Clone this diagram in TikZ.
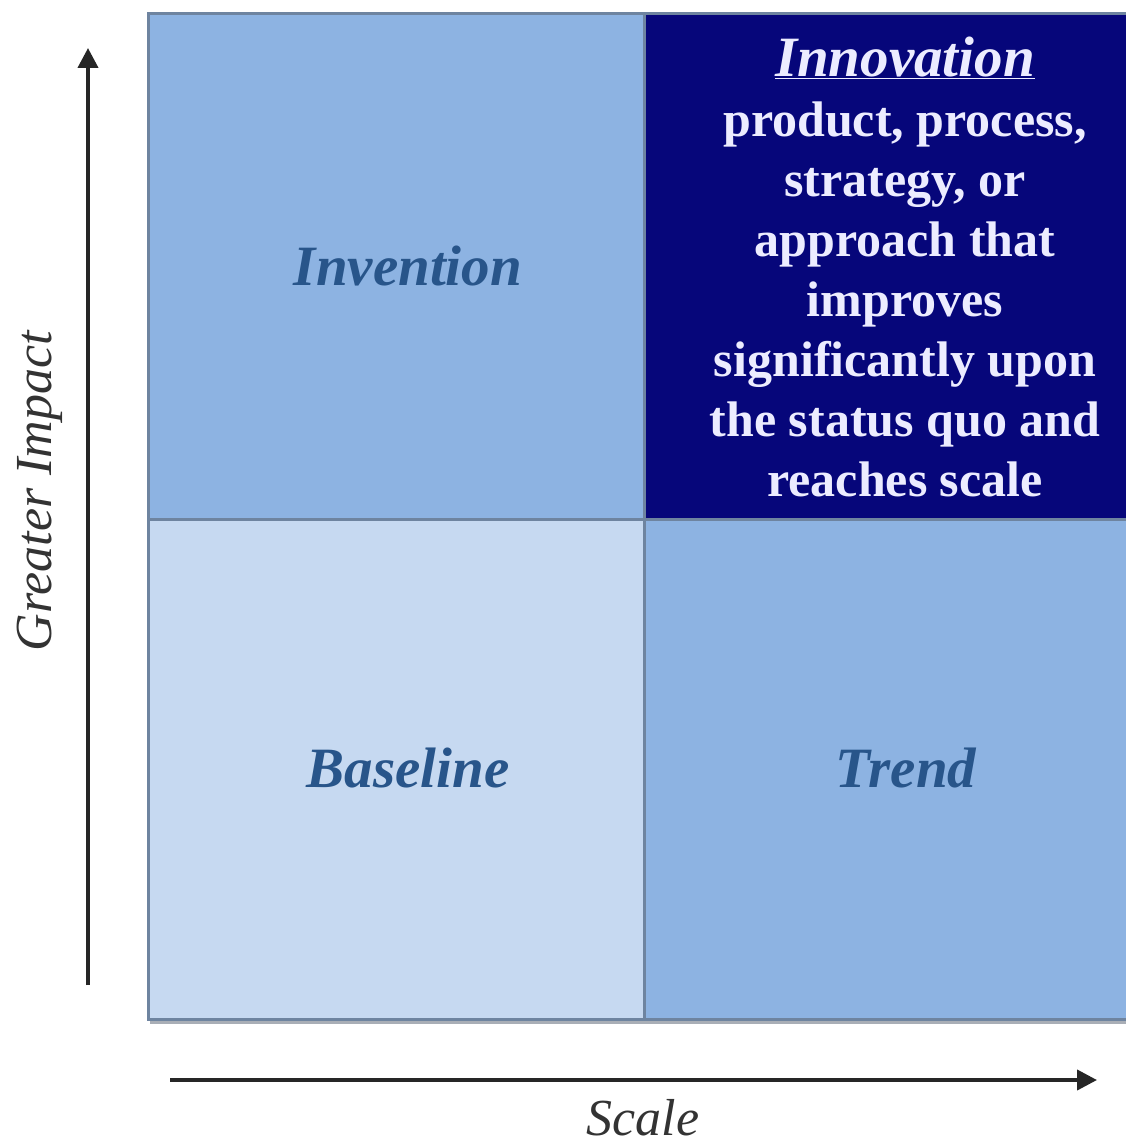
\documentclass[tikz,border=0pt]{standalone}
\usepackage{fontspec}
\setmainfont{Liberation Serif}
\usetikzlibrary{arrows.meta}
\definecolor{midblue}{HTML}{8DB3E2}
\definecolor{paleblue}{HTML}{C6D9F1}
\definecolor{navy}{HTML}{06067A}
\definecolor{cellline}{HTML}{6E84A0}
\definecolor{labelblue}{HTML}{28558A}
\definecolor{lighttext}{HTML}{ECECFF}
\definecolor{shadowgray}{HTML}{A9AEB6}
\tikzset{
  cell/.style={draw=cellline, line width=3pt, minimum width=496pt, minimum height=506pt, inner sep=0pt, anchor=north west},
  celllabel/.style={text=labelblue, font=\fontsize{57}{60}\selectfont\bfseries\itshape},
  axislabel/.style={text=black!80, font=\fontsize{52}{58}\selectfont\itshape},
  axisarrow/.style={line width=4pt, -{Triangle[width=20pt,length=20pt]}, black!85}
}
\begin{document}
\begin{tikzpicture}[x=1pt,y=-1pt]
\useasboundingbox[fill=white] (0,0) rectangle (1126,1148);
% shadow
\fill[shadowgray] (150,1016) rectangle (1130,1024);
% cells
\node[cell, fill=midblue, minimum height=506pt] (tl) at (147,12) {};
\node[cell, fill=navy, minimum width=500pt, minimum height=506pt] (tr) at (643,12) {};
\node[cell, fill=paleblue, minimum height=500pt] (bl) at (147,518) {};
\node[cell, fill=midblue, minimum width=500pt, minimum height=500pt] (br) at (643,518) {};
% labels
\node[celllabel] (invention) at (408,266) {Invention};
\node[celllabel] (baseline) at (408,768) {Baseline};
\node[celllabel] (trend) at (906,768) {Trend};
\node[text=lighttext, align=center, inner sep=0pt, font=\fontsize{50}{60}\selectfont\bfseries] (innovation) at (905,267)
  {{\fontsize{57}{60}\selectfont\itshape\underline{Innovation}}\\product, process,\\strategy, or\\approach that\\improves\\significantly upon\\the status quo and\\reaches scale};
% axes
\coordinate (ybot) at (88,985);
\coordinate (ytop) at (88,48);
\coordinate (xleft) at (170,1080);
\coordinate (xright) at (1097,1080);
\draw[axisarrow] (ybot) -- (ytop);
\draw[axisarrow] (xleft) -- (xright);
\node[axislabel, rotate=90] (impact) at (40,491) {Greater Impact};
\node[axislabel] (scale) at (643,1118) {Scale};
\end{tikzpicture}
\end{document}
